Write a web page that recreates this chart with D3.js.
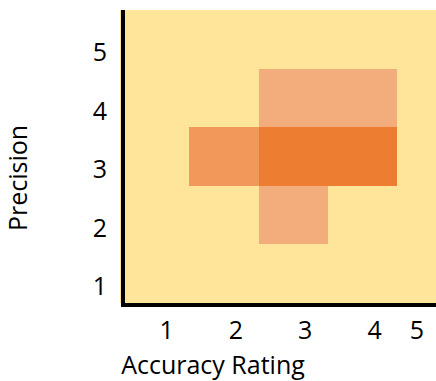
<!DOCTYPE html>
<html>
<head>
<meta charset="utf-8">
<script src="https://cdn.jsdelivr.net/npm/d3@7"></script>
<style>
  html, body { margin: 0; padding: 0; background: #fff; }
  svg { display: block; }
  text { font-family: "Open Sans", sans-serif; fill: #000; }
</style>
</head>
<body>
<script>
// Data
const accuracyLevels = [1, 2, 3, 4, 5];
const precisionLevels = [5, 4, 3, 2, 1];
const cellAccuracy = [2, 3, 4, 3, 4, 3];
const cellPrecision = [3, 3, 3, 4, 4, 2];
const cellCount = [2, 3, 3, 1, 1, 1];
const xTickLabels = ["1", "2", "3", "4", "5"];
const yTickLabels = ["5", "4", "3", "2", "1"];

const W = 436, H = 381;
const svg = d3.select("body").append("svg").attr("width", W).attr("height", H);

const plotLeft = 120, plotTop = 10, plotBottom = 303, plotRight = 436;
const FS = 25;

const x = d3.scaleBand().domain(accuracyLevels).range([plotLeft, plotLeft + 5 * 69.3]).padding(0);
const y = d3.scaleBand().domain(precisionLevels).range([plotTop, plotBottom]).padding(0);
const color = d3.scaleOrdinal().domain([1, 2, 3]).range(["#F3AD7D", "#F0995B", "#ED7D31"]);

// clip
svg.append("clipPath").attr("id", "clip").append("rect")
  .attr("x", plotLeft).attr("y", plotTop).attr("width", plotRight - plotLeft).attr("height", plotBottom - plotTop);

// background
svg.append("rect").attr("x", plotLeft).attr("y", plotTop)
  .attr("width", plotRight - plotLeft).attr("height", plotBottom - plotTop)
  .attr("fill", "#FEE599");

const cells = cellAccuracy.map((a, i) => ({ a, p: cellPrecision[i], c: cellCount[i] }));
svg.append("g").attr("clip-path", "url(#clip)")
  .selectAll("rect").data(cells).join("rect")
  .attr("x", d => Math.round(x(d.a)))
  .attr("y", d => Math.round(y(d.p)))
  .attr("width", d => Math.round(x(d.a) + x.bandwidth()) - Math.round(x(d.a)))
  .attr("height", d => Math.round(y(d.p) + y.bandwidth()) - Math.round(y(d.p)))
  .attr("shape-rendering", "crispEdges")
  .attr("fill", d => color(d.c));

// axis lines
svg.append("line").attr("x1", plotLeft + 3).attr("x2", plotLeft + 3)
  .attr("y1", plotTop).attr("y2", plotBottom + 4)
  .attr("stroke", "#000").attr("stroke-width", 4);
svg.append("line").attr("x1", plotLeft + 1).attr("x2", plotRight)
  .attr("y1", plotBottom + 2).attr("y2", plotBottom + 2)
  .attr("stroke", "#000").attr("stroke-width", 4);

// x tick labels
svg.append("g").selectAll("text").data(accuracyLevels).join("text")
  .attr("x", (d) => Math.min(x(d) + x.bandwidth() / 2 + 12, W - 19))
  .attr("y", 339)
  .attr("text-anchor", "middle")
  .attr("font-size", FS)
  .text((d, i) => xTickLabels[i]);

// y tick labels
svg.append("g").selectAll("text").data(precisionLevels).join("text")
  .attr("x", 100)
  .attr("y", d => y(d) + y.bandwidth() / 2 + 13)
  .attr("dy", "0.35em")
  .attr("text-anchor", "middle")
  .attr("font-size", FS)
  .text((d, i) => yTickLabels[i]);

// axis titles
svg.append("text").attr("x", 213).attr("y", 374)
  .attr("text-anchor", "middle").attr("font-size", FS)
  .text("Accuracy Rating");
svg.append("text").attr("transform", "translate(27,178) rotate(-90)")
  .attr("text-anchor", "middle").attr("font-size", FS)
  .text("Precision");
</script>
</body>
</html>
